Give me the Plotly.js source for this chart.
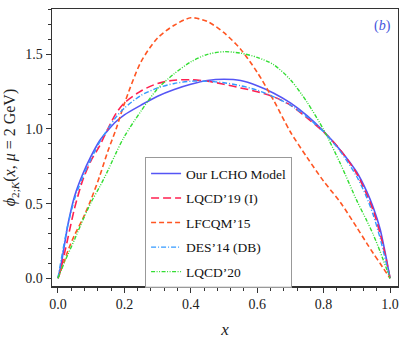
<!DOCTYPE html>
<html>
<head>
<meta charset="utf-8">
<script src="https://cdn.plot.ly/plotly-3.0.1.min.js"></script>
<style>
  html, body { margin: 0; padding: 0; background: #fff; }
  #plot { width: 399px; height: 339px; }
</style>
</head>
<body>
<div id="plot"></div>
<script>
// x grid shared by all curves
var xs = [0, 0.01, 0.02, 0.03, 0.05, 0.075, 0.1, 0.125, 0.15, 0.175, 0.2, 0.25, 0.3, 0.35, 0.4, 0.45,
          0.5, 0.55, 0.6, 0.65, 0.7, 0.75, 0.8, 0.85, 0.9, 0.93, 0.95, 0.97, 0.98, 0.99, 1.0];

// values
var lcho    = [0, 0.10, 0.23, 0.36, 0.55, 0.70, 0.82, 0.92, 0.99, 1.05, 1.095, 1.16, 1.22, 1.265, 1.30, 1.325,
               1.333, 1.325, 1.29, 1.24, 1.175, 1.09, 0.985, 0.86, 0.71, 0.58, 0.47, 0.33, 0.23, 0.12, 0];
var lqcd19  = [0, 0.07, 0.17, 0.27, 0.47, 0.66, 0.79, 0.885, 1.0, 1.105, 1.175, 1.255, 1.305, 1.327, 1.33, 1.32,
               1.30, 1.275, 1.25, 1.215, 1.16, 1.075, 0.98, 0.86, 0.70, 0.56, 0.45, 0.30, 0.21, 0.11, 0];
var lfcqm15 = [0, 0.06, 0.12, 0.185, 0.29, 0.40, 0.53, 0.68, 0.85, 1.0, 1.17, 1.45, 1.61, 1.695, 1.745, 1.72,
               1.645, 1.535, 1.38, 1.19, 0.98, 0.81, 0.65, 0.51, 0.34, 0.234, 0.165, 0.10, 0.066, 0.033, 0];
var des14   = [0, 0.13, 0.25, 0.36, 0.53, 0.68, 0.80, 0.91, 1.0, 1.08, 1.14, 1.225, 1.275, 1.305, 1.32, 1.32,
               1.31, 1.29, 1.26, 1.215, 1.16, 1.08, 0.98, 0.85, 0.68, 0.54, 0.42, 0.27, 0.18, 0.09, 0];
var lqcd20  = [0, 0.055, 0.11, 0.16, 0.26, 0.39, 0.51, 0.61, 0.72, 0.84, 0.95, 1.12, 1.27, 1.37, 1.45, 1.50,
               1.518, 1.508, 1.48, 1.43, 1.33, 1.18, 0.995, 0.77, 0.52, 0.385, 0.29, 0.18, 0.12, 0.06, 0];

var names = ["Our LCHO Model", "LQCD\u201919 (I)", "LFCQM\u201915", "DES\u201914 (DB)", "LQCD\u201920"];
var xticks = [0, 0.2, 0.4, 0.6, 0.8, 1.0];
var yticks = [0, 0.5, 1.0, 1.5];

var serif = "Liberation Serif, Times New Roman, serif";

function curve(y, name, color, dash, width) {
    return {
        x: xs, y: y, name: name, legendgroup: name,
        type: 'scatter', mode: 'lines',
        line: { color: color, dash: dash, width: width, shape: 'spline', smoothing: 0.8 }
    };
}

var data = [
    curve(lcho,    names[0], '#5555f5', 'solid', 1.6),
    curve(lqcd19,  names[1], '#ff2050', '8px,4px', 1.6),
    curve(lfcqm15, names[2], '#ff5522', '5px,3px', 1.6),
    curve(des14,   names[3], '#3399ff', '5px,2px,1px,2px', 1.4),
    curve(lqcd20,  names[4], '#33dd33', '4px,1.5px,1px,1.5px,1px,1.5px', 1.4)
];

var axcommon = {
    showline: true, linecolor: '#333', linewidth: 1.5, mirror: true,
    showgrid: false, zeroline: false,
    ticks: 'outside', ticklen: 5, tickwidth: 1, tickcolor: '#333',
    tickfont: { family: serif, size: 14, color: '#222' },
    tickformat: '.1f'
};

var layout = {
    width: 399, height: 339,
    margin: { l: 52, r: 1, t: 9, b: 53 },
    paper_bgcolor: '#fff', plot_bgcolor: '#fff',
    showlegend: true,
    xaxis: Object.assign({}, axcommon, {
        range: [-0.018, 1.024], tickmode: 'array', tickvals: xticks,
        minor: { dtick: 0.04, tick0: 0, ticks: 'outside', ticklen: 3, tickcolor: '#333' },
        title: { text: '<i>x</i>', font: { family: serif, size: 17, color: '#222' }, standoff: 12 }
    }),
    yaxis: Object.assign({}, axcommon, {
        range: [-0.052, 1.804], tickmode: 'array', tickvals: yticks,
        minor: { dtick: 0.1, tick0: 0, ticks: 'outside', ticklen: 3, tickcolor: '#333' },
        title: { text: '<i>\u03d5</i><sub>2;<i>K</i></sub>(<i>x</i>, <i>\u03bc</i> = 2 GeV)',
                 font: { family: serif, size: 16, color: '#222' }, standoff: 5 }
    }),
    legend: {
        x: 0.269, y: 0.465, xanchor: 'left', yanchor: 'top',
        bgcolor: 'rgba(255,255,255,0.85)', bordercolor: '#999', borderwidth: 1,
        font: { family: serif, size: 13.5, color: '#111' },
        traceorder: 'grouped', tracegroupgap: 4
    },
    annotations: [{
        xref: 'paper', yref: 'paper', x: 0.985, y: 0.975, xanchor: 'right', yanchor: 'top',
        text: '(<i>b</i>)', showarrow: false,
        font: { family: serif, size: 14, color: '#4455dd' }
    }]
};

Plotly.newPlot('plot', data, layout, { displayModeBar: false, staticPlot: true });
</script>
</body>
</html>
